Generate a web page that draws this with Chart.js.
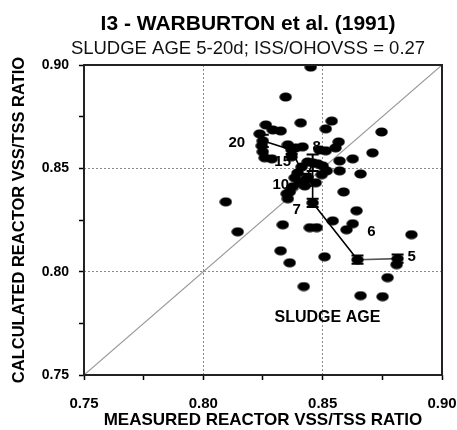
<!DOCTYPE html>
<html>
<head>
<meta charset="utf-8">
<script src="https://cdn.jsdelivr.net/npm/chart.js@4.4.1/dist/chart.umd.min.js"></script>
<style>
  body { margin: 0; background: #fff; }
  #wrap { width: 457px; height: 430px; }
</style>
</head>
<body>
<div id="wrap"><canvas id="vssChart" width="457" height="430"></canvas></div>
<script>
// individual observations: measured vs calculated VSS/TSS
const measured = [
    0.8450, 0.8345, 0.8262, 0.8291, 0.8324, 0.8408, 0.8538, 0.8513, 0.8747, 0.8567,
    0.8554, 0.8513, 0.8709, 0.8626, 0.8571, 0.8500, 0.8517, 0.8571, 0.8659, 0.8496,
    0.8588, 0.8642, 0.8542, 0.8626, 0.8600, 0.8872, 0.8508, 0.8772, 0.8659, 0.8751,
    0.8094, 0.8144, 0.8333, 0.8446, 0.8475, 0.8324, 0.8362, 0.8421, 0.8354, 0.8349,
    0.8236, 0.8245, 0.8249, 0.8257, 0.8287, 0.8354, 0.8387, 0.8416, 0.8437, 0.8479,
    0.8412, 0.8395, 0.8383, 0.8404, 0.8374, 0.8362, 0.8437, 0.8425, 0.8471, 0.8810,
    0.8370, 0.8487
];
const calculated = [
    0.8990, 0.8845, 0.8710, 0.8686, 0.8681, 0.8720, 0.8729, 0.8691, 0.8676, 0.8628,
    0.8599, 0.8585, 0.8575, 0.8546, 0.8536, 0.8512, 0.8488, 0.8488, 0.8473, 0.8469,
    0.8386, 0.8295, 0.8246, 0.8232, 0.8203, 0.8179, 0.8072, 0.7971, 0.7884, 0.7879,
    0.8338, 0.8193, 0.8227, 0.8213, 0.8213, 0.8101, 0.8043, 0.7928, 0.8353, 0.8377,
    0.8667, 0.8609, 0.8580, 0.8551, 0.8546, 0.8614, 0.8599, 0.8604, 0.8531, 0.8522,
    0.8507, 0.8478, 0.8454, 0.8430, 0.8411, 0.8386, 0.8454, 0.8415, 0.8430, 0.8034,
    0.8556, 0.8589
];

// sludge age means with error bars
const sludgeAges = ['20', '15', '10', '8', '7', '6', '5'];
const meanMeasured = [0.8249, 0.8370, 0.8429, 0.8458, 0.8458, 0.8646, 0.8814];
const meanCalculated = [0.8633, 0.8589, 0.8444, 0.8527, 0.8333, 0.8058, 0.8063];
const meanError = [0.003, 0.002, 0.003, 0.004, 0.002, 0.002, 0.002];

const axisLabels = ['0.75', '0.80', '0.85', '0.90'];
const gridAt = [0.80, 0.85];

const chartTitle = 'I3 - WARBURTON et al. (1991)';
const chartSubtitle = 'SLUDGE AGE 5-20d; ISS/OHOVSS = 0.27';

const FONT = '"Liberation Sans", Arial, sans-serif';
Chart.defaults.font.family = FONT;
Chart.defaults.color = '#000';

// elliptical dot marker
const dot = document.createElement('canvas');
dot.width = 13;
dot.height = 10;
const dc = dot.getContext('2d');
dc.fillStyle = '#000';
dc.beginPath();
dc.ellipse(6.5, 5, 6.2, 4.6, 0, 0, Math.PI * 2);
dc.fill();

// label offsets (px) for the sludge age numbers
const labelOffsets = [[-26, 2], [-9, 12], [-25, 5], [4, -16], [-16, 7], [14, -28], [14, -2]];

const extras = {
    id: 'extras',
    afterDatasetsDraw(chart) {
        const {ctx, scales: {x, y}} = chart;
        ctx.save();
        ctx.strokeStyle = '#000';
        ctx.lineWidth = 2;
        sludgeAges.forEach((age, i) => {
            const px = x.getPixelForValue(meanMeasured[i]);
            const top = y.getPixelForValue(meanCalculated[i] + meanError[i]);
            const bot = y.getPixelForValue(meanCalculated[i] - meanError[i]);
            ctx.beginPath();
            ctx.moveTo(px, top); ctx.lineTo(px, bot);
            ctx.moveTo(px - 6, top); ctx.lineTo(px + 6, top);
            ctx.moveTo(px - 6, bot); ctx.lineTo(px + 6, bot);
            ctx.stroke();
        });
        ctx.fillStyle = '#000';
        ctx.font = 'bold 15px ' + FONT;
        ctx.textAlign = 'center';
        ctx.textBaseline = 'middle';
        sludgeAges.forEach((age, i) => {
            const px = x.getPixelForValue(meanMeasured[i]);
            const py = y.getPixelForValue(meanCalculated[i]);
            ctx.fillText(age, px + labelOffsets[i][0], py + labelOffsets[i][1]);
        });
        ctx.font = 'bold 16px ' + FONT;
        ctx.fillText('SLUDGE AGE', x.getPixelForValue(0.852), y.getPixelForValue(0.7778));
        ctx.restore();
    },
    afterDraw(chart) {
        const {ctx, chartArea: a} = chart;
        ctx.save();
        ctx.strokeStyle = '#222';
        ctx.lineWidth = 2;
        ctx.strokeRect(a.left, a.top, a.right - a.left, a.bottom - a.top);
        // title and subtitle
        ctx.fillStyle = '#000';
        ctx.textAlign = 'center';
        ctx.textBaseline = 'middle';
        ctx.font = 'bold 21px ' + FONT;
        ctx.fillText(chartTitle, 248, 24);
        ctx.fillStyle = '#111';
        ctx.font = '18.5px ' + FONT;
        ctx.fillText(chartSubtitle, 248, 49);
        ctx.restore();
    }
};

const scaleOpts = (title, fit, tickPad, tickSize, titleSize, titlePad) => ({
    type: 'linear',
    min: 0.75,
    max: 0.90,
    afterFit: fit,
    ticks: {
        stepSize: 0.025,
        autoSkip: false,
        maxRotation: 0,
        padding: tickPad,
        font: {size: tickSize, weight: 'bold'},
        callback: (value) => {
            const s = value.toFixed(2);
            return (Math.round(value * 1000) % 50 === 0 && axisLabels.includes(s)) ? s : '';
        }
    },
    grid: {
        color: (ctx) => gridAt.some(g => Math.abs(ctx.tick.value - g) < 1e-6) ? '#8a8a8a' : 'rgba(0,0,0,0)',
        lineWidth: 1,
        tickColor: '#000',
        tickLength: 5,
        tickWidth: 1.5
    },
    border: {display: false, dash: [2, 2]},
    title: {
        display: true,
        text: title,
        font: {size: titleSize, weight: 'bold'},
        padding: titlePad
    }
});

new Chart(document.getElementById('vssChart'), {
    type: 'scatter',
    data: {
        datasets: [
            {
                type: 'line',
                data: meanMeasured.map((v, i) => ({x: v, y: meanCalculated[i]})),
                borderColor: '#000',
                borderWidth: 1.6,
                pointStyle: dot,
                pointRadius: 6,
                tension: 0,
                segment: {
                    borderColor: (ctx) => ctx.p0DataIndex === 5 ? '#555' : '#000'
                }
            },
            {
                data: measured.map((v, i) => ({x: v, y: calculated[i]})),
                pointStyle: dot,
                pointRadius: 6,
                backgroundColor: '#000',
                borderColor: '#000'
            },
            {
                type: 'line',
                data: [{x: 0.75, y: 0.75}, {x: 0.90, y: 0.90}],
                borderColor: '#9a9a9a',
                borderWidth: 1.2,
                pointRadius: 0
            }
        ]
    },
    plugins: [extras],
    options: {
        responsive: false,
        animation: false,
        layout: {padding: {left: 0, right: 15, top: 65, bottom: 0}},
        plugins: {
            legend: {display: false},
            tooltip: {enabled: false},
            title: {display: false},
            subtitle: {display: false}
        },
        scales: {
            x: scaleOpts('MEASURED REACTOR VSS/TSS RATIO', (s) => {
                s.height = 55;
                s.paddingLeft = 0;
                s.paddingRight = 0;
            }, 15, 15, 17, {top: 0, bottom: -1}),
            y: scaleOpts('CALCULATED REACTOR VSS/TSS RATIO', (s) => {
                s.width = 84;
                s.paddingTop = 0;
                s.paddingBottom = 0;
            }, 10, 14, 16.5, {top: 10, bottom: 0})
        }
    }
});
</script>
</body>
</html>
